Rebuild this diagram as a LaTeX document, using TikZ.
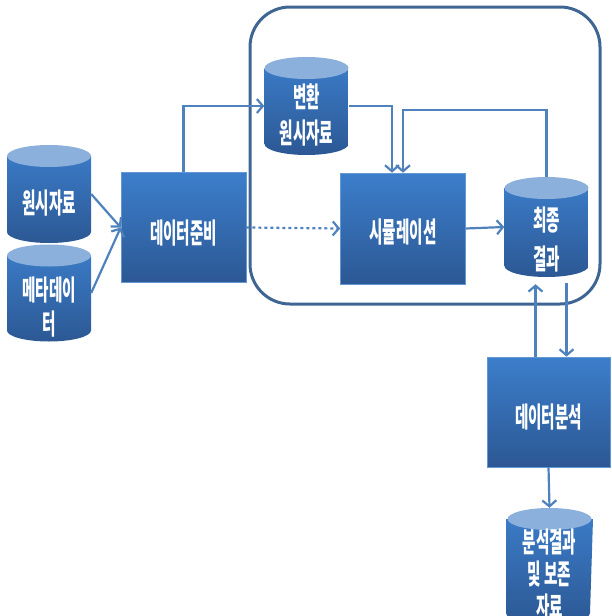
\documentclass[tikz,border=0pt]{standalone}
\usepackage{fontspec}
\usepackage{graphicx}
\setmainfont{Noto Sans CJK KR}
\usetikzlibrary{arrows.meta,positioning}

\definecolor{boxtop}{RGB}{60,126,203}
\definecolor{boxbot}{RGB}{44,88,148}
\definecolor{cyltop}{RGB}{140,176,220}
\definecolor{arrcol}{RGB}{79,129,189}
\definecolor{framecol}{RGB}{63,101,147}

% narrow white text, as in the drawing, set a little below the middle
\newcommand\nar[1]{\scalebox{0.52}[1]{\begin{tabular}{@{}c@{}}#1\end{tabular}}}
\newcommand\lowtxt[2][14pt]{\raisebox{-#1}[0pt][0pt]{\nar{#2}}}

\tikzset{
  box/.style={rectangle,minimum width=125pt,minimum height=110pt,inner sep=0pt,
    top color=boxtop,bottom color=boxbot,draw=boxtop!80!white,line width=0.6pt,
    text=white,font=\fontsize{28}{37}\selectfont\bfseries},
  cyl/.style={rectangle,minimum width=84pt,minimum height=98pt,inner sep=0pt,
    text=white,font=\fontsize{28}{37}\selectfont\bfseries,
    path picture={
      \shade[top color=boxtop,bottom color=boxbot]
        ([yshift=-11pt]path picture bounding box.north west) --
        ([yshift=11pt]path picture bounding box.south west)
        arc[start angle=180,end angle=360,x radius=42pt,y radius=11pt] --
        ([yshift=-11pt]path picture bounding box.north east) -- cycle;
      \fill[cyltop] ([yshift=-11pt]path picture bounding box.north)
        ellipse[x radius=42pt,y radius=11pt];
    }},
  arr/.style={draw=arrcol,line width=2.2pt,-{Straight Barb[length=6pt,width=14pt]}},
  frame/.style={draw=framecol,line width=3pt,rounded corners=40pt,
    minimum width=350pt,minimum height=297pt}
}

\begin{document}
\begin{tikzpicture}[x=1pt,y=-1pt]
  \clip (0,0) rectangle (612,616);

  \node[frame] (sys) at (425,155.5) {};

  \node[cyl] (src) at (49,194) {\lowtxt[18pt]{원시자료}};
  \node[cyl,minimum height=97pt,font=\fontsize{28}{34}\selectfont\bfseries] (meta) at (49,293) {\lowtxt[24pt]{메타데이\\터}};
  \node[box] (prep) at (183.5,227.5) {\lowtxt[15pt]{데이터준비}};

  \node[cyl,font=\fontsize{28}{36}\selectfont\bfseries] (conv) at (306.5,106) {\lowtxt[19pt]{변환\\원시자료}};
  \node[box,minimum height=111pt] (sim) at (403,228.5) {\lowtxt[13pt]{시뮬레이션}};
  \node[cyl,minimum height=100pt,font=\fontsize{28}{39}\selectfont\bfseries] (final) at (546.5,227) {\lowtxt[21pt]{최종\\결과}};

  \node[box,minimum width=123pt] (anal) at (548.5,412) {\lowtxt{데이터분석}};
  \node[cyl,minimum width=87pt,minimum height=116pt,font=\fontsize{28}{31}\selectfont\bfseries] (keep) at (549.5,566)
    {\lowtxt[18pt]{분석결과\\및 보존\\자료}};

  \coordinate (loop) at (475,110);

  \draw[arr] (src.east) -- (prep.west);
  \draw[arr] (meta.east) -- (prep.west);
  \draw[arr] (prep.north) |- (conv.west);
  \draw[arr,dashed] (prep.east) -- (sim.west);
  \draw[arr] (conv.east) -| ([xshift=-11pt]sim.north);
  \draw[arr] (final.north) |- (loop) -| (sim.north);
  \draw[arr] (sim.east) -- (final.west);
  \draw[arr,shorten >=7pt] ([xshift=-13pt]anal.north) -- ([xshift=-13pt]anal.north |- final.south);
  \draw[arr,shorten <=6pt] ([xshift=18pt]anal.north |- final.south) -- ([xshift=18pt]anal.north);
  \draw[arr] (anal.south) -- (keep.north);
\end{tikzpicture}
\end{document}
